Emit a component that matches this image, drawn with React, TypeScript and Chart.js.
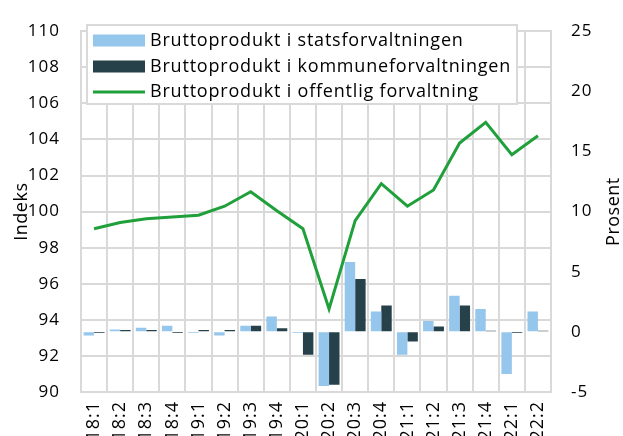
import React, { useEffect, useRef } from "react";
import { Chart, registerables } from "chart.js";

Chart.register(...registerables);

const categories = ["18:1","18:2","18:3","18:4","19:1","19:2","19:3","19:4","20:1","20:2","20:3","20:4","21:1","21:2","21:3","21:4","22:1","22:2"];
const statsValues = [-0.3, 0.2, 0.35, 0.5, -0.1, -0.3, 0.5, 1.27, -0.1, -4.5, 5.8, 1.7, -1.9, 0.9, 3.0, 1.9, -3.5, 1.7];
const kommuneValues = [-0.1, 0.15, 0.15, -0.1, 0.15, 0.15, 0.5, 0.3, -1.9, -4.4, 4.4, 2.2, -0.8, 0.45, 2.2, 0.1, -0.1, 0.1];
const offentligValues = [99.05, 99.4, 99.6, 99.7, 99.8, 100.3, 101.1, 100.05, 99.05, 94.6, 99.5, 101.55, 100.3, 101.2, 103.8, 104.95, 103.15, 104.2];

const seriesNames = [
  "Bruttoprodukt i statsforvaltningen",
  "Bruttoprodukt i kommuneforvaltningen",
  "Bruttoprodukt i offentlig forvaltning",
];
const leftTitle = "Indeks";
const rightTitle = "Prosent";

const LIGHT = "#95C6EB";
const DARK = "#26414A";
const GREEN = "#20A03A";
const GRID = "#d9d9d9";
const FONT = "'Open Sans', 'Noto Sans', sans-serif";

export default function App() {
  const ref = useRef<HTMLCanvasElement>(null);
  useEffect(() => {
    document.body.style.margin = "0";
    const canvas = ref.current!;
    const spacing = {
      id: "spacing",
      beforeUpdate(chart: any) { chart.ctx.letterSpacing = "1px"; },
      beforeLayout(chart: any) { chart.ctx.letterSpacing = "1px"; },
      beforeDraw(chart: any) { chart.ctx.letterSpacing = "1px"; },
    };
    const extras = {
      id: "extras",
      afterDraw(chart: any) {
        const ctx = chart.ctx;
        const area = chart.chartArea;
        ctx.save();
        // legend box
        const bx = 87, by = 25, bw = 430, bh = 79;
        ctx.fillStyle = "#ffffff";
        ctx.fillRect(bx, by, bw, bh);
        ctx.strokeStyle = GRID;
        ctx.lineWidth = 2;
        ctx.strokeRect(bx, by, bw, bh);
        const rows = [40.5, 66.5, 92];
        ctx.font = `18px ${FONT}`;
        (ctx as any).letterSpacing = "0.8px";
        ctx.textBaseline = "middle";
        ctx.textAlign = "left";
        rows.forEach((ry, i) => {
          if (i < 2) {
            ctx.fillStyle = i === 0 ? LIGHT : DARK;
            ctx.fillRect(93, ry - 6, 52, 12);
          } else {
            ctx.strokeStyle = GREEN;
            ctx.lineWidth = 3;
            ctx.beginPath();
            ctx.moveTo(93, ry);
            ctx.lineTo(145, ry);
            ctx.stroke();
          }
          ctx.fillStyle = "#000";
          ctx.fillText(seriesNames[i], 150, ry);
        });
        ctx.restore();
        // axis titles
        const cy = (area.top + area.bottom) / 2;
        const drawTitle = (text: string, x: number) => {
          ctx.save();
          ctx.font = `18px ${FONT}`;
          (ctx as any).letterSpacing = "0.5px";
          ctx.textAlign = "center";
          ctx.textBaseline = "middle";
          ctx.fillStyle = "#000";
          ctx.translate(x, cy);
          ctx.rotate(-Math.PI / 2);
          ctx.fillText(text, 0, 0);
          ctx.restore();
        };
        drawTitle(leftTitle, 22);
        drawTitle(rightTitle, 614);
      },
    };
    const chart = new Chart(canvas, {
      type: "bar",
      data: {
        labels: categories,
        datasets: [
          {
            type: "line",
            label: seriesNames[2],
            data: offentligValues,
            yAxisID: "y",
            borderColor: GREEN,
            backgroundColor: GREEN,
            borderWidth: 3,
            pointRadius: 0,
            tension: 0,
            order: 0,
          } as any,
          {
            type: "bar",
            label: seriesNames[0],
            data: statsValues,
            yAxisID: "y1",
            backgroundColor: LIGHT,
            categoryPercentage: 0.8,
            barPercentage: 1.0,
            order: 1,
          },
          {
            type: "bar",
            label: seriesNames[1],
            data: kommuneValues,
            yAxisID: "y1",
            backgroundColor: DARK,
            categoryPercentage: 0.8,
            barPercentage: 1.0,
            order: 1,
          },
        ],
      },
      options: {
        animation: false,
        responsive: false,
        layout: { padding: { top: 21, left: 0, right: 0, bottom: 0 } },
        plugins: { legend: { display: false }, tooltip: { enabled: false } },
        scales: {
          x: {
            grid: { color: GRID, lineWidth: 2, drawTicks: false, offset: true },
            border: { color: GRID, width: 2 },
            ticks: {
              font: { family: FONT, size: 18 },
              color: "#000",
              maxRotation: 90,
              minRotation: 90,
              padding: 9,
              autoSkip: false,
            },
            afterFit: (s: any) => { s.height = 44; },
          },
          y: {
            position: "left",
            min: 90,
            max: 110,
            grid: { color: GRID, lineWidth: 2, drawTicks: false },
            border: { color: GRID, width: 2 },
            ticks: {
              stepSize: 2,
              font: { family: FONT, size: 17 },
              color: "#000",
              padding: 21,
            },
            afterFit: (s: any) => { s.width = 81; },
          },
          y1: {
            position: "right",
            min: -5,
            max: 25,
            grid: { drawOnChartArea: false, drawTicks: false },
            border: { color: GRID, width: 2 },
            ticks: {
              stepSize: 5,
              font: { family: FONT, size: 17 },
              color: "#000",
              padding: 20,
            },
            afterFit: (s: any) => { s.width = 72; },
          },
        },
      },
      plugins: [spacing, extras],
    });
    return () => chart.destroy();
  }, []);
  return <canvas ref={ref} width={623} height={436} style={{ display: "block", width: 623, height: 436 }} />;
}
